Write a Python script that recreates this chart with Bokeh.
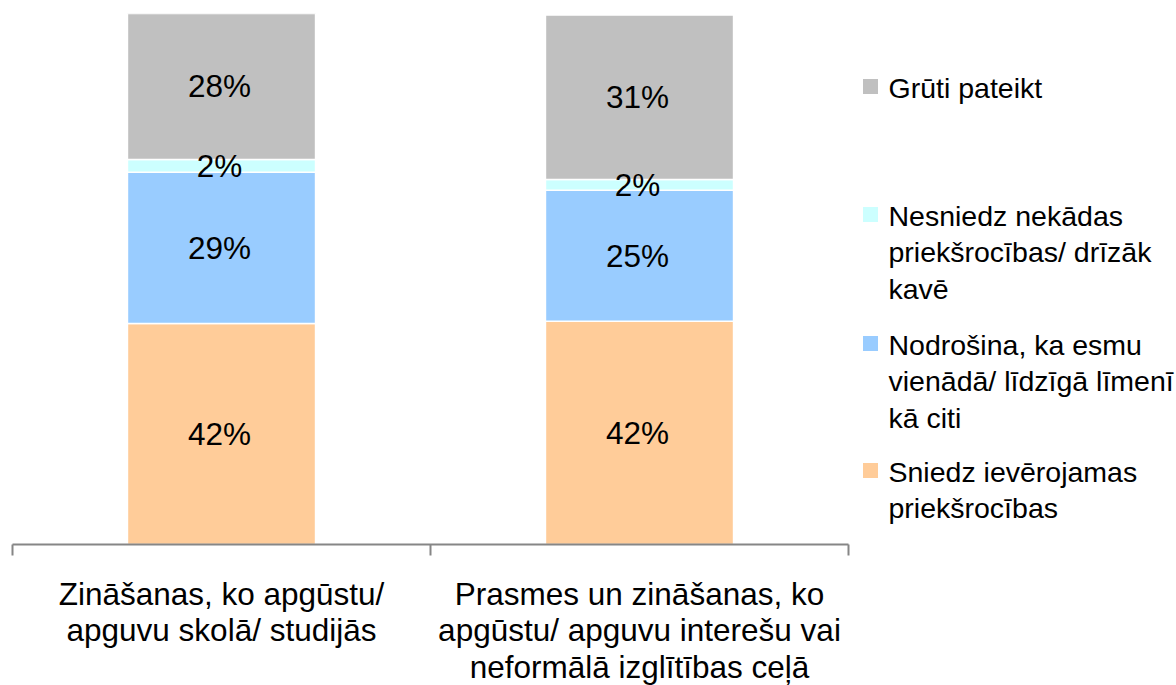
from bokeh.plotting import figure
from bokeh.models import Range1d, FixedTicker, ColumnDataSource, LinearAxis
from bokeh.core.properties import value
from bokeh.embed import file_html
from bokeh.resources import INLINE

# ---------------- data ----------------
categories = [
    "Zināšanas, ko apgūstu/\napguvu skolā/ studijās",
    "Prasmes un zināšanas, ko\napgūstu/ apguvu interešu vai\nneformālā izglītības ceļā",
]
series_names = [
    "Sniedz ievērojamas\npriekšrocības",
    "Nodrošina, ka esmu\nvienādā/ līdzīgā līmenī\nkā citi",
    "Nesniedz nekādas\npriekšrocības/ drīzāk\nkavē",
    "Grūti pateikt",
]
sniedz = [41.8, 42.2]
nodrosina = [28.6, 24.8]
nesniedz = [2.4, 2.0]
gruti = [27.6, 31.1]
series_values = [sniedz, nodrosina, nesniedz, gruti]
colors = ["#FFCC99", "#99CCFF", "#CCFFFF", "#C0C0C0"]

FONT = "Liberation Sans"

# ---------------- layout constants ----------------
FRAME_W, FRAME_H = 1164, 531
CAT_PX = 418  # pixels per category slot

n = len(categories)
xs = [i + 0.5 for i in range(n)]
totals = [sum(v[i] for v in series_values) for i in range(n)]

p = figure(frame_width=FRAME_W, frame_height=FRAME_H,
           x_range=Range1d(0, FRAME_W / CAT_PX), y_range=Range1d(0, max(totals)),
           output_backend="svg", toolbar_location=None,
           x_axis_location=None, y_axis_location=None,
           min_border_left=12, min_border_right=0, min_border_top=13, min_border_bottom=0)
p.extra_x_ranges = {"px": Range1d(0, FRAME_W)}
p.extra_y_ranges = {"px": Range1d(FRAME_H, 0)}
p.outline_line_color = None
p.xgrid.visible = False
p.ygrid.visible = False
p.background_fill_color = "white"
p.border_fill_color = "white"

# bars
bottoms = [0.0] * n
label_sources = []
for vals, col in zip(series_values, colors):
    tops = [b + v for b, v in zip(bottoms, vals)]
    mids = [(b + t) / 2 for b, t in zip(bottoms, tops)]
    labels = [f"{v:.0f}%" for v in vals]
    src = ColumnDataSource(dict(x=xs, bottom=bottoms, top=tops, mid=mids, label=labels))
    p.vbar(x="x", bottom="bottom", top="top", width=0.45, source=src,
           fill_color=col, line_color="white", line_width=1.5)
    label_sources.append(src)
    bottoms = tops

# data labels (drawn after all bars)
for src in label_sources:
    p.text(x="x", y="mid", text="label", source=src,
           text_font=value(FONT), text_font_size="31.5px", text_color="black",
           text_align="center", text_baseline="middle", x_offset=-2)

# category axis: labels at slot centres, tick marks at slot boundaries
ax = LinearAxis(ticker=FixedTicker(ticks=xs, minor_ticks=list(range(n + 1))))
ax.bounds = (0, n)
ax.major_label_overrides = {x: c for x, c in zip(xs, categories)}
ax.major_tick_line_color = None
ax.major_tick_out = 0
ax.major_tick_in = 0
ax.minor_tick_out = 11
ax.minor_tick_in = 0
ax.minor_tick_line_color = "#868686"
ax.minor_tick_line_width = 2
ax.axis_line_color = "#868686"
ax.axis_line_width = 2
ax.major_label_text_font = FONT
ax.major_label_text_font_size = "31.5px"
ax.major_label_text_line_height = 1.02
ax.major_label_text_color = "black"
ax.major_label_standoff = 20
p.add_layout(ax, "below")

# ---------------- legend (frame-pixel coordinates) ----------------
item_y = [73, 201, 330, 457]
line_h = 36.5
leg_names = list(reversed(series_names))
leg_colors = list(reversed(colors))
p.rect(x=[858] * len(item_y), y=item_y, width=15, height=15,
       fill_color=leg_colors, line_color=None,
       x_range_name="px", y_range_name="px")
tx, ty, tt = [], [], []
for yy, name in zip(item_y, leg_names):
    for k, line in enumerate(name.split("\n")):
        tx.append(876)
        ty.append(yy + 1 + k * line_h)
        tt.append(line)
p.text(x=tx, y=ty, text=tt, text_font=value(FONT), text_font_size="28.5px",
       text_color="black", text_align="left", text_baseline="middle",
       x_range_name="px", y_range_name="px")

open("out.html", "w").write(file_html(p, INLINE))
